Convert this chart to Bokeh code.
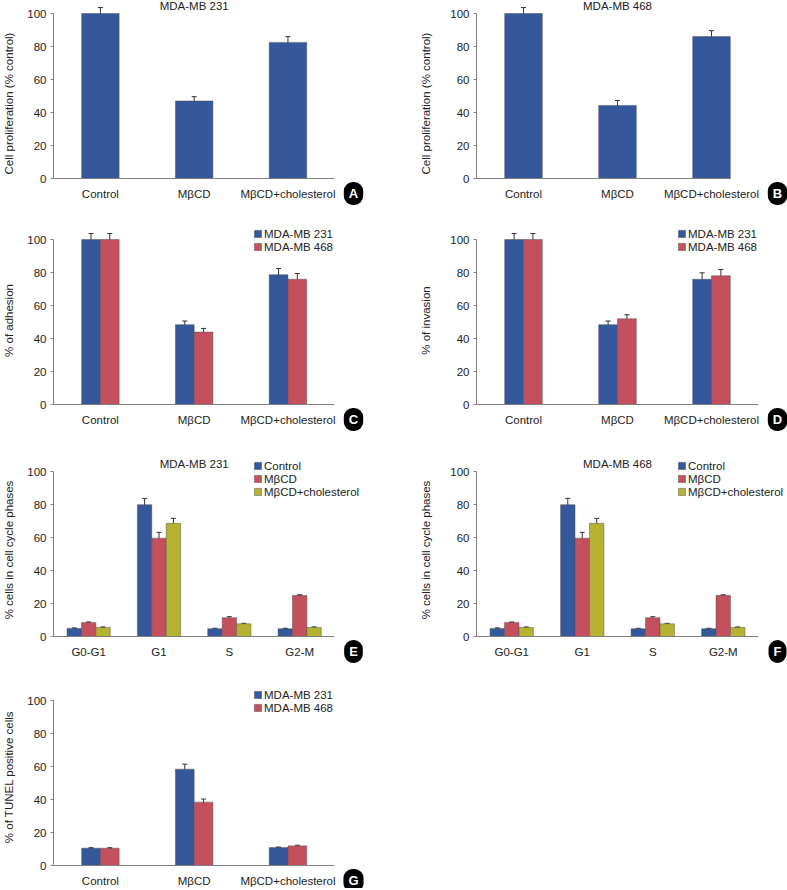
from bokeh.plotting import figure
from bokeh.models import (Range1d, FixedTicker, ColumnDataSource, Whisker, TeeHead,
                          Legend, LegendItem, Label)
from bokeh.layouts import column, row
from bokeh.embed import file_html
from bokeh.resources import INLINE

FONT = "Liberation Sans"
BLUE = "#34589B"
RED = "#C4505E"
OLIVE = "#B5B232"
AXIS = "#808080"
TXT = "#222222"

# ---------------- data ----------------
treatments = ["Control", "MβCD", "MβCD+cholesterol"]
phases = ["G0-G1", "G1", "S", "G2-M"]
cell_lines = ["MDA-MB 231", "MDA-MB 468"]
phase_series = ["Control", "MβCD", "MβCD+cholesterol"]
y_ticks = [0, 20, 40, 60, 80, 100]

prolif_231 = [100, 47.0, 82.5]
prolif_231_err = [3.6, 2.6, 3.5]
prolif_468 = [100, 44.3, 86.0]
prolif_468_err = [3.6, 3.0, 3.6]

adhesion_231 = [100, 48.4, 78.7]
adhesion_231_err = [3.6, 2.2, 3.7]
adhesion_468 = [100, 43.9, 75.9]
adhesion_468_err = [3.6, 2.2, 3.5]

invasion_231 = [100, 48.4, 75.9]
invasion_231_err = [3.6, 2.2, 3.9]
invasion_468 = [100, 52.0, 78.0]
invasion_468_err = [3.6, 2.4, 3.8]

cycle231_control = [4.9, 79.9, 4.7, 4.7]
cycle231_control_err = [0.3, 3.8, 0.3, 0.3]
cycle231_mbcd = [8.5, 59.6, 11.4, 24.9]
cycle231_mbcd_err = [0.3, 3.5, 0.6, 0.4]
cycle231_chol = [5.5, 68.6, 7.7, 5.5]
cycle231_chol_err = [0.3, 3.0, 0.3, 0.3]

cycle468_control = [4.9, 79.9, 4.7, 4.7]
cycle468_control_err = [0.3, 3.8, 0.3, 0.3]
cycle468_mbcd = [8.5, 59.6, 11.4, 24.9]
cycle468_mbcd_err = [0.3, 3.5, 0.6, 0.4]
cycle468_chol = [5.5, 68.6, 7.7, 5.5]
cycle468_chol_err = [0.3, 3.0, 0.3, 0.3]

tunel_231 = [10.5, 58.4, 10.9]
tunel_231_err = [0.3, 3.0, 0.3]
tunel_468 = [10.5, 38.4, 11.9]
tunel_468_err = [0.3, 1.9, 0.4]

# ---------------- layout geometry (pixels) ----------------
PLOT_PX = 165.0          # pixels from 0 to 100 on the y axis
COLS = [dict(width=393, left=51, axis_px=283, standoff=9, letter_x=300, legend_x=200),
        dict(width=394, left=83, axis_px=282, standoff=15, letter_x=301, legend_x=201)]
ROWS = [dict(top=0, bottom=206, y100=13),
        dict(top=206, bottom=434, y100=239),
        dict(top=434, bottom=665, y100=471),
        dict(top=665, bottom=888, y100=700)]


def panel(col, rw, cats, series, ylabel, letter, title=None, legend=False,
          axis_end=None):
    c = COLS[col]
    r = ROWS[rw]
    n = len(cats)
    ppu = PLOT_PX / 100.0
    y0 = r["y100"] + PLOT_PX
    y_end = 100 + (r["y100"] - r["top"]) / ppu
    y_start = -(r["bottom"] - y0) / ppu
    cat_px = c["axis_px"] / n
    frame_w = c["width"] - c["left"]
    x_end = frame_w / cat_px

    p = figure(width=c["width"], height=r["bottom"] - r["top"],
               x_range=Range1d(0, x_end), y_range=Range1d(y_start, y_end),
               output_backend="svg", toolbar_location=None,
               min_border_left=c["left"], min_border_right=0,
               min_border_top=0, min_border_bottom=0)
    p.outline_line_color = None
    p.xgrid.visible = False
    p.ygrid.visible = False
    p.background_fill_color = "white"
    p.border_fill_color = "white"

    xa = p.xaxis[0]
    xa.fixed_location = 0
    xa.bounds = (0, n if axis_end is None else axis_end)
    xa.ticker = FixedTicker(ticks=[i + 0.5 for i in range(n)])
    xa.major_label_overrides = {i + 0.5: cats[i] for i in range(n)}
    xa.major_tick_line_color = None
    xa.minor_tick_line_color = None
    xa.axis_line_color = AXIS
    xa.major_label_standoff = 3
    xa.major_label_text_font = FONT
    xa.major_label_text_font_size = "11.5px"
    xa.major_label_text_color = TXT

    ya = p.yaxis[0]
    ya.bounds = (0, 100)
    ya.ticker = FixedTicker(ticks=y_ticks)
    ya.minor_tick_line_color = None
    ya.major_tick_in = 0
    ya.major_tick_out = 3
    ya.major_tick_line_color = AXIS
    ya.axis_line_color = AXIS
    ya.major_label_standoff = 4
    ya.major_label_text_font = FONT
    ya.major_label_text_font_size = "11.5px"
    ya.major_label_text_color = TXT
    ya.axis_label = ylabel
    ya.axis_label_text_font = FONT
    ya.axis_label_text_font_size = "11.5px"
    ya.axis_label_text_font_style = "normal"
    ya.axis_label_text_color = TXT
    ya.axis_label_standoff = c["standoff"]

    k = len(series)
    if k == 1:
        bw, offs = 0.4, [0.0]
    elif k == 2:
        bw, offs = 0.2, [-0.1, 0.1]
    else:
        bw, offs = 0.205, [-0.205, 0.0, 0.205]

    items = []
    for (name, vals, errs, color), off in zip(series, offs):
        xs = [i + 0.5 + off for i in range(n)]
        src = ColumnDataSource(dict(
            x=xs, top=vals,
            upper=[v + e for v, e in zip(vals, errs)],
            lower=[v - e for v, e in zip(vals, errs)]))
        rnd = p.vbar(x="x", top="top", width=bw, bottom=0, source=src,
                     fill_color=color, line_color="#4a4a4a", line_alpha=0.55,
                     line_width=0.8)
        w = Whisker(base="x", upper="upper", lower="lower", source=src,
                    dimension="height", line_color="#333333", line_width=1,
                    upper_head=TeeHead(size=5, line_color="#333333", line_width=1),
                    lower_head=TeeHead(size=5, line_color="#333333", line_width=1))
        p.add_layout(w)
        items.append(LegendItem(label=name, renderers=[rnd]))

    if legend:
        item_h = 13
        lh = item_h * len(series)
        frame_bottom_px = r["bottom"] - r["top"]
        legend_top_px = r["y100"] - r["top"] - 12
        loc_y = frame_bottom_px - legend_top_px - lh
        lg = Legend(items=items, location=(c["legend_x"], loc_y),
                    label_text_font=FONT, label_text_font_size="11.5px",
                    label_text_color=TXT, glyph_width=9, glyph_height=9,
                    label_height=item_h, spacing=0, padding=0, margin=0,
                    label_standoff=2, border_line_color=None,
                    background_fill_alpha=0, label_text_line_height=1.0)
        p.add_layout(lg)

    if title:
        p.add_layout(Label(x=n / 2, y=100, y_offset=8, text=title,
                           text_align="center", text_baseline="middle",
                           text_font=FONT, text_font_size="11.5px",
                           text_color=TXT))

    p.add_layout(Label(x=c["letter_x"], y=0, x_units="screen", y_units="data",
                       y_offset=-15, text=letter, text_color="white",
                       text_font=FONT, text_font_style="bold",
                       text_font_size="13px", text_align="center",
                       text_baseline="middle", background_fill_color="black",
                       border_radius=9, padding=(5, 4)))
    return p


pA = panel(0, 0, treatments, [("A", prolif_231, prolif_231_err, BLUE)],
           "Cell proliferation (% control)", "A", title=cell_lines[0])
pB = panel(1, 0, treatments, [("B", prolif_468, prolif_468_err, BLUE)],
           "Cell proliferation (% control)", "B", title=cell_lines[1],
           axis_end=2.7)
pC = panel(0, 1, treatments,
           [(cell_lines[0], adhesion_231, adhesion_231_err, BLUE),
            (cell_lines[1], adhesion_468, adhesion_468_err, RED)],
           "% of adhesion", "C", legend=True)
pD = panel(1, 1, treatments,
           [(cell_lines[0], invasion_231, invasion_231_err, BLUE),
            (cell_lines[1], invasion_468, invasion_468_err, RED)],
           "% of invasion", "D", legend=True)
pE = panel(0, 2, phases,
           [(phase_series[0], cycle231_control, cycle231_control_err, BLUE),
            (phase_series[1], cycle231_mbcd, cycle231_mbcd_err, RED),
            (phase_series[2], cycle231_chol, cycle231_chol_err, OLIVE)],
           "% cells in cell cycle phases", "E", title=cell_lines[0], legend=True)
pF = panel(1, 2, phases,
           [(phase_series[0], cycle468_control, cycle468_control_err, BLUE),
            (phase_series[1], cycle468_mbcd, cycle468_mbcd_err, RED),
            (phase_series[2], cycle468_chol, cycle468_chol_err, OLIVE)],
           "% cells in cell cycle phases", "F", title=cell_lines[1], legend=True)
pG = panel(0, 3, treatments,
           [(cell_lines[0], tunel_231, tunel_231_err, BLUE),
            (cell_lines[1], tunel_468, tunel_468_err, RED)],
           "% of TUNEL positive cells", "G", legend=True)

layout = column(row(pA, pB), row(pC, pD), row(pE, pF), row(pG))
open("out.html", "w").write(file_html(layout, INLINE))
